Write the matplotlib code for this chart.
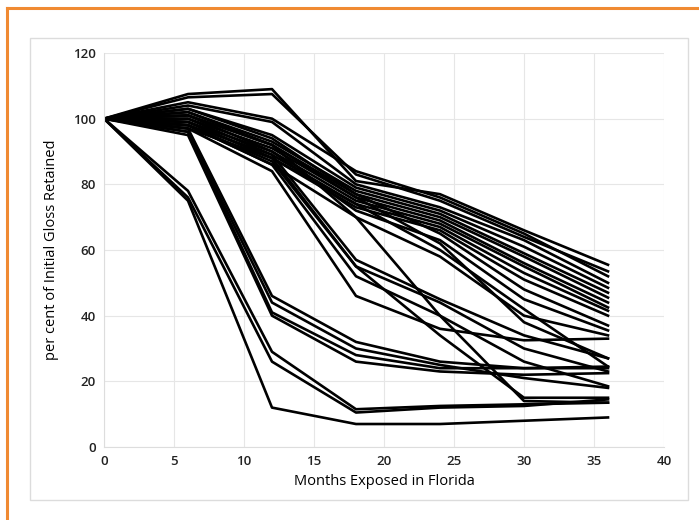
"""Gloss retention of coatings exposed in Florida (one line per coating)."""

import matplotlib.pyplot as plt
from matplotlib.lines import Line2D
from matplotlib.patches import Rectangle

months = [0, 6, 12, 18, 24, 30, 36]

# upper bundle: slow steady loss
slow_series = [
    [100, 107.5, 109, 81, 77, 66, 55.5],
    [100, 106.5, 107.5, 83, 75, 64, 53.5],
    [100, 105, 100, 84, 76, 65, 52],
    [100, 104, 99, 80, 73, 63, 50],
    [100, 103, 95, 79, 72, 61, 48.5],
    [100, 102, 93, 78, 71, 59, 47],
    [100, 101, 92, 77, 70, 58, 45.5],
    [100, 100, 91, 76, 69, 56, 44],
    [100, 99, 90, 75, 68, 55, 42.5],
    [100, 98, 89, 74, 67, 53, 41.5],
    [100, 97, 88, 73, 66, 51, 40],
    [100, 103, 94, 77, 65, 48, 37],
    [100, 101, 90, 72, 63, 45, 35.5],
    [100, 98, 86, 70, 58, 40, 34],
    [100, 102, 92, 76, 62, 38, 27],
    [100, 99, 88, 74, 60, 42, 24.5],
]

# middle group: sharp drop between 12 and 18 months
mid_series = [
    [100, 97, 84, 46, 36, 32.5, 33],
    [100, 99, 88, 55, 44, 30, 23],
    [100, 98, 86, 52, 40, 26, 18.5],
    [100, 100, 89, 57, 45, 34, 27],
    [100, 98, 87, 55, 34, 15, 15],
    [100, 101, 92, 70, 40, 14, 13.5],
]

# early failures: sharp drop between 6 and 12 months
early_series = [
    [100, 97, 46, 32, 26, 24, 24],
    [100, 96, 41, 28, 24, 24, 24.5],
    [100, 95, 40, 26, 23, 22, 22.5],
    [100, 96, 44, 30, 25, 21, 18],
]

# very early failures: drop already at 6 months
fast_series = [
    [100, 78, 29, 11.5, 12.5, 13, 13.5],
    [100, 76, 26, 10.5, 12, 12.5, 14.5],
    [100, 75, 12, 7, 7, 8, 9],
]

x_ticks = [0, 5, 10, 15, 20, 25, 30, 35, 40]
y_ticks = [0, 20, 40, 60, 80, 100, 120]


def main() -> None:
    plt.rcParams["font.family"] = ["Open Sans", "DejaVu Sans"]
    fig = plt.figure(figsize=(6.99, 5.2), dpi=100)

    # orange outer border and grey chart frame
    fig.add_artist(Line2D([7 / 699, 7 / 699], [0, 1 - 8 / 520], color="#f08a32", lw=2.2))
    fig.add_artist(Line2D([7 / 699, 1], [1 - 8 / 520, 1 - 8 / 520], color="#f08a32", lw=2.2))
    fig.add_artist(Rectangle((30 / 699, 20 / 520), 658 / 699, 462 / 520,
                             fill=False, edgecolor="#dcdcdc", lw=1.0))

    ax = fig.add_axes([104 / 699, 73 / 520, 560 / 699, 394 / 520])
    for series in slow_series + mid_series + early_series + fast_series:
        ax.plot(months, series, color="black", lw=1.9)

    ax.set_xlim(0, 40)
    ax.set_ylim(0, 120)
    ax.set_xticks(x_ticks)
    ax.set_yticks(y_ticks)
    ax.tick_params(length=0, labelsize=9.5, pad=6)
    for label in ax.get_xticklabels() + ax.get_yticklabels():
        label.set_fontweight("semibold")
        label.set_color("#222222")
    ax.grid(color="#e6e6e6", lw=0.8)
    ax.set_axisbelow(True)
    for side in ["top", "right"]:
        ax.spines[side].set_visible(False)
    for side in ["left", "bottom"]:
        ax.spines[side].set_color("#dddddd")

    ax.set_xlabel("Months Exposed in Florida", fontsize=10.5, labelpad=4)
    ax.set_ylabel("per cent of Initial Gloss Retained", fontsize=10.5, labelpad=10)

    fig.savefig("out.png", dpi=100)
    plt.close(fig)


if __name__ == "__main__":
    main()
